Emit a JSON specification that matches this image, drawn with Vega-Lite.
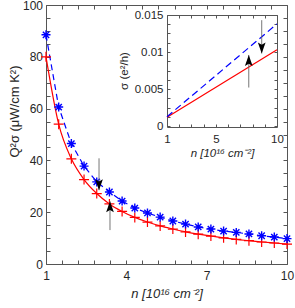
{
  "$schema": "https://vega.github.io/schema/vega-lite/v6.json",
  "width": 241,
  "height": 259,
  "autosize": {"type": "none"},
  "padding": {"left": 46, "top": 5, "right": 8, "bottom": 44},
  "background": "white",
  "config": {
    "view": {"stroke": null},
    "axis": {
      "grid": false,
      "domainColor": "#555555",
      "domainWidth": 1,
      "tickColor": "#555555",
      "tickWidth": 1,
      "tickSize": -4,
      "labelColor": "#262626",
      "titleColor": "#262626",
      "labelFont": "Liberation Sans",
      "titleFont": "Liberation Sans",
      "labelFontSize": 12,
      "titleFontSize": 13,
      "titleFontWeight": "normal",
      "labelOverlap": false,
      "labelFlush": false
    }
  },
  "datasets": {
    "main": [
      {"n": 1, "blue": 88.5, "red": 80},
      {"n": 1.474, "blue": 60.6, "red": 54},
      {"n": 1.947, "blue": 46.5, "red": 40.6},
      {"n": 2.421, "blue": 37.8, "red": 32.6},
      {"n": 2.895, "blue": 31.7, "red": 27.2},
      {"n": 3.368, "blue": 27.8, "red": 23.2},
      {"n": 3.842, "blue": 24.3, "red": 20.3},
      {"n": 4.316, "blue": 21.6, "red": 18.0},
      {"n": 4.789, "blue": 19.7, "red": 16.2},
      {"n": 5.263, "blue": 18.1, "red": 14.7},
      {"n": 5.737, "blue": 16.6, "red": 13.5},
      {"n": 6.211, "blue": 15.4, "red": 12.4},
      {"n": 6.684, "blue": 14.3, "red": 11.5},
      {"n": 7.158, "blue": 13.5, "red": 10.8},
      {"n": 7.632, "blue": 12.7, "red": 10.1},
      {"n": 8.105, "blue": 12.2, "red": 9.5},
      {"n": 8.579, "blue": 11.6, "red": 9.0},
      {"n": 9.053, "blue": 10.9, "red": 8.5},
      {"n": 9.526, "blue": 10.4, "red": 8.1},
      {"n": 10, "blue": 9.8, "red": 7.7}
    ],
    "mainArrows": [
      {"n": 2.98, "start": 40.8, "tip": 28.5, "dir": "down"},
      {"n": 3.39, "start": 13.1, "tip": 24.2, "dir": "up"}
    ],
    "inset": [
      {"n": 1, "blue": 0.00125, "red": 0.00117},
      {"n": 10, "blue": 0.0138, "red": 0.0103}
    ],
    "insetArrows": [
      {"n": 8.75, "start": 0.0143, "tip": 0.0098, "dir": "down"},
      {"n": 7.69, "start": 0.0052, "tip": 0.0096, "dir": "up"}
    ]
  },
  "layer": [
    {
      "layer": [
        {
          "data": {"name": "main"},
          "mark": {"type": "line", "color": "#ff0000", "strokeWidth": 1.2, "interpolate": "monotone"},
          "encoding": {
            "x": {"field": "n", "type": "quantitative", "scale": {"domain": [1, 10], "nice": false, "zero": false},
              "axis": {"orient": "bottom", "title": "n [10¹⁶ cm⁻²]", "titleFontStyle": "italic", "titlePadding": 6, "labelOverlap": false,
                "values": [1, 1.6, 2.2, 2.8, 3.4, 4, 4.6, 5.2, 5.8, 6.4, 7, 7.6, 8.2, 8.8, 9.4, 10],
                "labelExpr": "indexof([1,4,7,10], datum.value) >= 0 ? '' + datum.value : ''", "labelPadding": 10}},
            "y": {"field": "red", "type": "quantitative", "scale": {"domain": [0, 100], "nice": false, "zero": false},
              "axis": {"orient": "left", "title": "Q²σ (μW/cm K²)", "titleX": -25, "titleY": 106, "titleAngle": 270, "titleBaseline": "bottom", "titleAlign": "center", "labelOverlap": false,
                "values": [0, 5, 10, 15, 20, 25, 30, 35, 40, 45, 50, 55, 60, 65, 70, 75, 80, 85, 90, 95, 100],
                "labelExpr": "datum.value % 20 == 0 ? '' + datum.value : ''", "labelPadding": 7.5}}
          }
        },
        {
          "data": {"name": "main"},
          "mark": {"type": "line", "color": "#0000ff", "strokeWidth": 1.2, "strokeDash": [6, 4]},
          "encoding": {
            "x": {"field": "n", "type": "quantitative", "scale": {"domain": [1, 10], "nice": false, "zero": false},
              "axis": {"orient": "top", "labels": false, "title": null,
                "values": [1, 1.6, 2.2, 2.8, 3.4, 4, 4.6, 5.2, 5.8, 6.4, 7, 7.6, 8.2, 8.8, 9.4, 10]}},
            "y": {"field": "blue", "type": "quantitative", "scale": {"domain": [0, 100], "nice": false, "zero": false},
              "axis": {"orient": "right", "labels": false, "title": null,
                "values": [0, 5, 10, 15, 20, 25, 30, 35, 40, 45, 50, 55, 60, 65, 70, 75, 80, 85, 90, 95, 100]}}
          }
        },
        {
          "data": {"name": "main"},
          "mark": {"type": "point", "shape": "M-1,0H1M0,-1V1", "filled": false, "stroke": "#ff0000", "strokeWidth": 1.2, "size": 100, "opacity": 1},
          "encoding": {
            "x": {"field": "n", "type": "quantitative", "scale": {"domain": [1, 10], "nice": false, "zero": false}, "axis": null},
            "y": {"field": "red", "type": "quantitative", "scale": {"domain": [0, 100], "nice": false, "zero": false}, "axis": null}
          }
        },
        {
          "data": {"name": "main"},
          "mark": {"type": "point", "shape": "M-1,0H1M0,-1V1M-0.7,-0.7L0.7,0.7M-0.7,0.7L0.7,-0.7", "filled": false, "stroke": "#0000ff", "strokeWidth": 1.4, "size": 81, "opacity": 1},
          "encoding": {
            "x": {"field": "n", "type": "quantitative", "scale": {"domain": [1, 10], "nice": false, "zero": false}, "axis": null},
            "y": {"field": "blue", "type": "quantitative", "scale": {"domain": [0, 100], "nice": false, "zero": false}, "axis": null}
          }
        },
        {
          "data": {"name": "mainArrows"},
          "mark": {"type": "rule", "color": "#666666", "strokeWidth": 0.9},
          "encoding": {
            "x": {"field": "n", "type": "quantitative", "scale": {"domain": [1, 10], "nice": false, "zero": false}, "axis": null},
            "y": {"field": "start", "type": "quantitative", "scale": {"domain": [0, 100], "nice": false, "zero": false}, "axis": null},
            "y2": {"field": "tip"}
          }
        },
        {
          "data": {"name": "mainArrows"},
          "transform": [{"filter": "datum.dir == 'down'"}],
          "mark": {"type": "point", "shape": "M0,0L-0.35,-1L0,-0.8L0.35,-1Z", "filled": true, "color": "#000000", "size": 484, "opacity": 1, "strokeWidth": 0},
          "encoding": {
            "x": {"field": "n", "type": "quantitative", "scale": {"domain": [1, 10], "nice": false, "zero": false}, "axis": null},
            "y": {"field": "tip", "type": "quantitative", "scale": {"domain": [0, 100], "nice": false, "zero": false}, "axis": null}
          }
        },
        {
          "data": {"name": "mainArrows"},
          "transform": [{"filter": "datum.dir == 'up'"}],
          "mark": {"type": "point", "shape": "M0,0L-0.35,1L0,0.8L0.35,1Z", "filled": true, "color": "#000000", "size": 484, "opacity": 1, "strokeWidth": 0},
          "encoding": {
            "x": {"field": "n", "type": "quantitative", "scale": {"domain": [1, 10], "nice": false, "zero": false}, "axis": null},
            "y": {"field": "tip", "type": "quantitative", "scale": {"domain": [0, 100], "nice": false, "zero": false}, "axis": null}
          }
        }
      ],
      "resolve": {"axis": {"x": "independent", "y": "independent"}}
    },
    {
      "layer": [
        {
          "data": {"name": "inset"},
          "mark": {"type": "line", "color": "#ff0000", "strokeWidth": 1.2},
          "encoding": {
            "x": {"field": "n", "type": "quantitative", "scale": {"domain": [1, 10], "range": [121, 231], "nice": false, "zero": false},
              "axis": {"orient": "bottom", "offset": -137, "title": "n [10¹⁶ cm⁻²]", "titleFontStyle": "italic", "titleFontSize": 11.5, "titlePadding": 3, "labelOverlap": false,
                "values": [1, 2, 3, 4, 5, 6, 7, 8, 9, 10],
                "labelExpr": "indexof([1,5,10], datum.value) >= 0 ? '' + datum.value : ''", "labelPadding": 9, "labelFontSize": 11.5, "tickSize": -3}},
            "y": {"field": "red", "type": "quantitative", "scale": {"domain": [0, 0.015], "range": [121, 10], "nice": false, "zero": false},
              "axis": {"orient": "left", "offset": -121, "title": "σ (e²/h)", "titleFontSize": 11.5, "titlePadding": 5, "labelOverlap": false,
                "values": [0, 0.00125, 0.0025, 0.00375, 0.005, 0.00625, 0.0075, 0.00875, 0.01, 0.01125, 0.0125, 0.01375, 0.015],
                "labelExpr": "indexof([0,0.005,0.01,0.015], datum.value) >= 0 ? '' + datum.value : ''", "labelPadding": 7, "labelFontSize": 11.5, "tickSize": -3}}
          }
        },
        {
          "data": {"name": "inset"},
          "mark": {"type": "line", "color": "#0000ff", "strokeWidth": 1.2, "strokeDash": [7, 4]},
          "encoding": {
            "x": {"field": "n", "type": "quantitative", "scale": {"domain": [1, 10], "range": [121, 231], "nice": false, "zero": false},
              "axis": {"orient": "top", "offset": -10, "labels": false, "title": null, "values": [1, 2, 3, 4, 5, 6, 7, 8, 9, 10], "tickSize": -3}},
            "y": {"field": "blue", "type": "quantitative", "scale": {"domain": [0, 0.015], "range": [121, 10], "nice": false, "zero": false},
              "axis": {"orient": "right", "offset": -10, "labels": false, "title": null,
                "values": [0, 0.00125, 0.0025, 0.00375, 0.005, 0.00625, 0.0075, 0.00875, 0.01, 0.01125, 0.0125, 0.01375, 0.015], "tickSize": -3}}
          }
        },
        {
          "data": {"name": "insetArrows"},
          "mark": {"type": "rule", "color": "#666666", "strokeWidth": 0.9},
          "encoding": {
            "x": {"field": "n", "type": "quantitative", "scale": {"domain": [1, 10], "range": [121, 231], "nice": false, "zero": false}, "axis": null},
            "y": {"field": "start", "type": "quantitative", "scale": {"domain": [0, 0.015], "range": [121, 10], "nice": false, "zero": false}, "axis": null},
            "y2": {"field": "tip"}
          }
        },
        {
          "data": {"name": "insetArrows"},
          "transform": [{"filter": "datum.dir == 'down'"}],
          "mark": {"type": "point", "shape": "M0,0L-0.35,-1L0,-0.8L0.35,-1Z", "filled": true, "color": "#000000", "size": 484, "opacity": 1, "strokeWidth": 0},
          "encoding": {
            "x": {"field": "n", "type": "quantitative", "scale": {"domain": [1, 10], "range": [121, 231], "nice": false, "zero": false}, "axis": null},
            "y": {"field": "tip", "type": "quantitative", "scale": {"domain": [0, 0.015], "range": [121, 10], "nice": false, "zero": false}, "axis": null}
          }
        },
        {
          "data": {"name": "insetArrows"},
          "transform": [{"filter": "datum.dir == 'up'"}],
          "mark": {"type": "point", "shape": "M0,0L-0.35,1L0,0.8L0.35,1Z", "filled": true, "color": "#000000", "size": 484, "opacity": 1, "strokeWidth": 0},
          "encoding": {
            "x": {"field": "n", "type": "quantitative", "scale": {"domain": [1, 10], "range": [121, 231], "nice": false, "zero": false}, "axis": null},
            "y": {"field": "tip", "type": "quantitative", "scale": {"domain": [0, 0.015], "range": [121, 10], "nice": false, "zero": false}, "axis": null}
          }
        }
      ],
      "resolve": {"axis": {"x": "independent", "y": "independent"}}
    }
  ],
  "resolve": {"scale": {"x": "independent", "y": "independent"}, "axis": {"x": "independent", "y": "independent"}}
}
